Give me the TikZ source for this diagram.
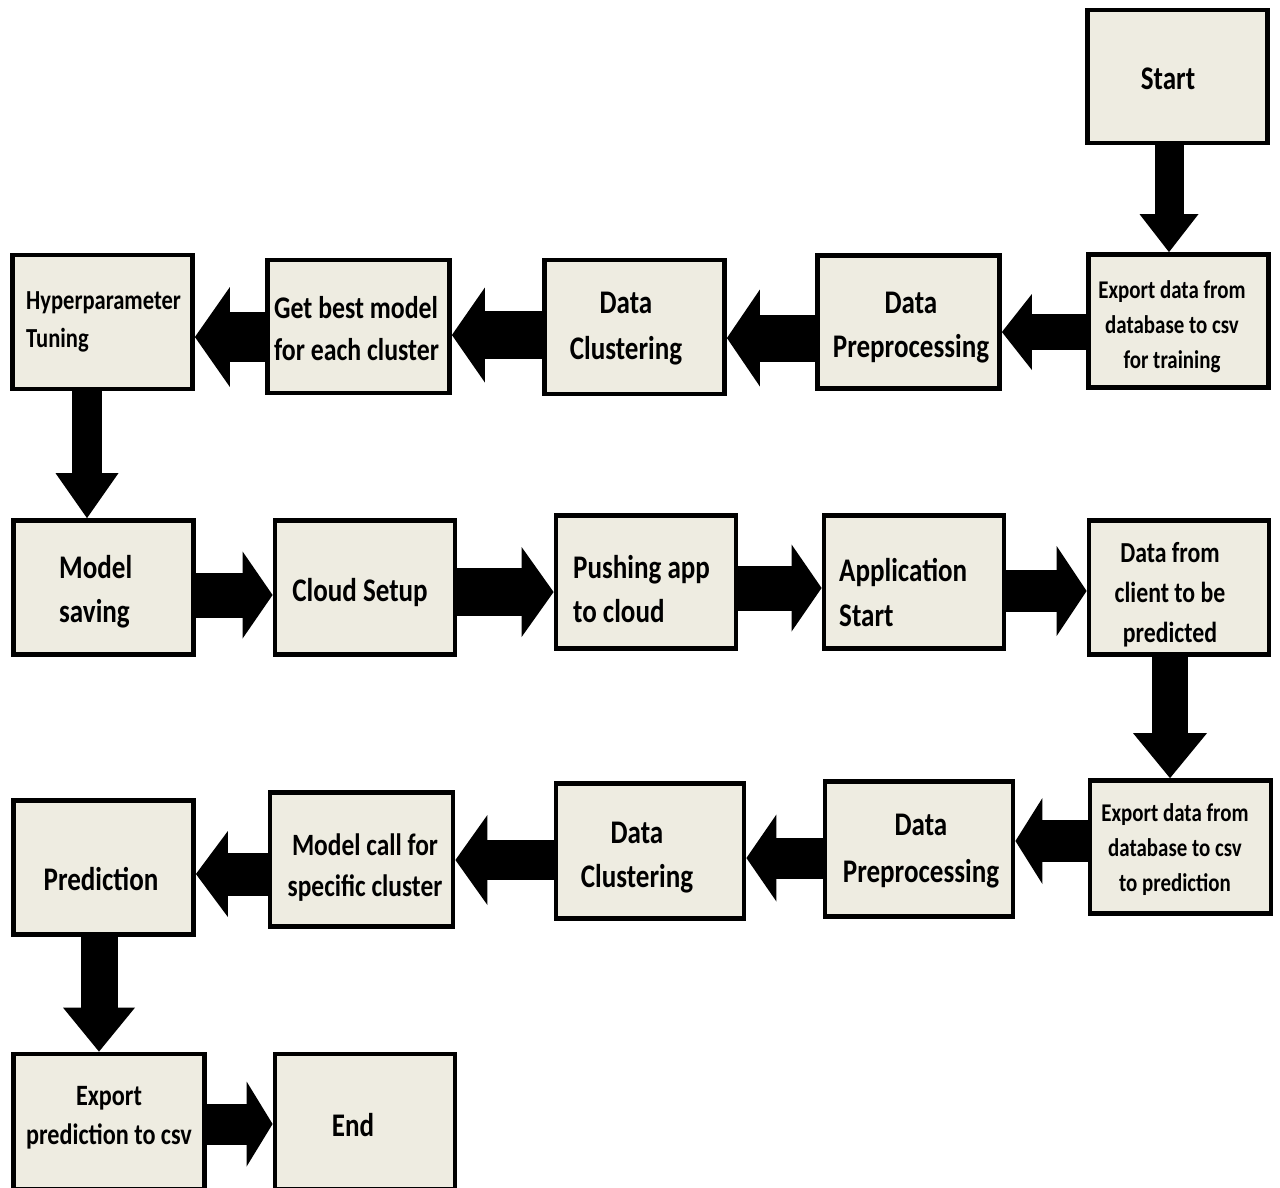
\documentclass[tikz,border=0pt]{standalone}
\usepackage{fontspec}
\setmainfont{Carlito}[FakeStretch=0.82]
\usetikzlibrary{arrows.meta}
\definecolor{boxfill}{RGB}{238,236,225}
\tikzset{
  box/.style={draw=black, line width=4.8pt, fill=boxfill, rectangle, inner sep=0pt},
  txt/.style={inner sep=0pt, font=\bfseries},
  blockarrow/.style n args={3}{draw=black, line width=#1pt,
     -{Triangle[width=#2pt, length=#3pt, line width=0pt]}}
}
\begin{document}
\begin{tikzpicture}[x=1pt, y=-1pt]
\useasboundingbox (0,0) rectangle (1280,1187);
% ---------- boxes ----------
\node[box, minimum width=180, minimum height=133] (start)  at (1177.5,76.5) {};
\node[box, minimum width=180, minimum height=133] (exp1)   at (1178.5,321) {};
\node[box, minimum width=182, minimum height=133] (pre1)   at (908.5,322) {};
\node[box, minimum width=180, minimum height=134] (clu1)   at (634.5,327) {};
\node[box, minimum width=182, minimum height=133] (best)   at (358.5,326.5) {};
\node[box, minimum width=180, minimum height=134] (hyp)    at (102.5,322) {};
\node[box, minimum width=180, minimum height=134] (ms)     at (103.5,587.5) {};
\node[box, minimum width=180, minimum height=134] (cloud)  at (365,587.5) {};
\node[box, minimum width=180, minimum height=133] (push)   at (646,582) {};
\node[box, minimum width=180, minimum height=133] (app)    at (914,582) {};
\node[box, minimum width=180, minimum height=134] (client) at (1179,587.5) {};
\node[box, minimum width=181, minimum height=133] (exp2)   at (1180.5,847) {};
\node[box, minimum width=188, minimum height=135] (pre2)   at (919,849) {};
\node[box, minimum width=188, minimum height=135] (clu2)   at (650,851) {};
\node[box, minimum width=183, minimum height=134] (mc)     at (361.5,859.5) {};
\node[box, minimum width=180, minimum height=134] (pred)   at (103.5,867.5) {};
\node[box, minimum width=191, minimum height=135] (exp3)   at (109,1121.5) {};
\node[box, minimum width=180, minimum height=135] (end)    at (365,1121.5) {};
% ---------- texts ----------
\node[txt, font=\bfseries\fontsize{33}{40}\selectfont] (tstart) at (1168,79) {Start};
\node[txt, align=center, font=\bfseries\fontsize{25.5}{35}\selectfont] (texp1) at (1172,327) {Export data from\\database to csv\\for training};
\node[txt, align=center, font=\bfseries\fontsize{33}{44}\selectfont] (tpre1) at (911,328) {Data\\Preprocessing};
\node[txt, align=center, font=\bfseries\fontsize{33}{46}\selectfont] (tclu1) at (626,329) {Data\\Clustering};
\node[txt, anchor=west, align=left, font=\bfseries\fontsize{31.5}{42}\selectfont] (tbest) at (274,329) {Get best model\\for each cluster};
\node[txt, anchor=west, align=left, font=\bfseries\fontsize{27.5}{38}\selectfont] (thyp) at (26,322) {Hyperparameter\\Tuning};
\node[txt, anchor=west, align=left, font=\bfseries\fontsize{33}{44}\selectfont] (tms) at (59,592) {Model\\saving};
\node[txt, font=\bfseries\fontsize{33}{43}\selectfont] (tcloud) at (360,593) {Cloud Setup};
\node[txt, anchor=west, align=left, font=\bfseries\fontsize{33}{44}\selectfont] (tpush) at (573,589) {Pushing app\\to cloud};
\node[txt, anchor=west, align=left, font=\bfseries\fontsize{33}{45}\selectfont] (tapp) at (839,593) {Application\\Start};
\node[txt, align=center, font=\bfseries\fontsize{29}{40}\selectfont] (tclient) at (1170,595) {Data from\\client to be\\predicted};
\node[txt, align=center, font=\bfseries\fontsize{25.5}{35}\selectfont] (texp2) at (1175,850) {Export data from\\database to csv\\ to prediction};
\node[txt, align=center, font=\bfseries\fontsize{33}{47}\selectfont] (tpre2) at (921,851) {Data\\Preprocessing};
\node[txt, align=center, font=\bfseries\fontsize{33}{44}\selectfont] (tclu2) at (637,858) {Data\\Clustering};
\node[txt, align=center, font=\bfseries\fontsize{31}{41}\selectfont] (tmc) at (365,868) {Model call for\\specific cluster};
\node[txt, font=\bfseries\fontsize{33}{43}\selectfont] (tpred) at (101,879) {Prediction};
\node[txt, align=center, font=\bfseries\fontsize{29.5}{39}\selectfont] (texp3) at (109,1118) {Export\\prediction to csv};
\node[txt, font=\bfseries\fontsize{33}{43}\selectfont] (tend) at (353,1125) {End};
% ---------- arrows ----------
\draw[blockarrow={29}{59}{38}]  (start.south -| 1169,0) -- (exp1.north -| 1169,0);
\draw[blockarrow={36}{76}{30}]  (exp1.west |- 0,332) -- (pre1.east |- 0,332);
\draw[blockarrow={47}{97}{33}]  (pre1.west |- 0,338) -- (clu1.east |- 0,338);
\draw[blockarrow={48}{95}{33}]  (clu1.west |- 0,335) -- (best.east |- 0,335);
\draw[blockarrow={50}{100}{35}] (best.west |- 0,337) -- (hyp.east |- 0,337);
\draw[blockarrow={30}{63}{45}]  (hyp.south -| 87,0) -- (ms.north -| 87,0);
\draw[blockarrow={45}{87}{30}]  (ms.east |- 0,595) -- (cloud.west |- 0,595);
\draw[blockarrow={48}{90}{32}]  (cloud.east |- 0,592) -- (push.west |- 0,592);
\draw[blockarrow={45}{87}{30}]  (push.east |- 0,588) -- (app.west |- 0,588);
\draw[blockarrow={42}{90}{30}]  (app.east |- 0,591) -- (client.west |- 0,591);
\draw[blockarrow={36}{74}{45}]  (client.south -| 1170,0) -- (exp2.north -| 1170,0);
\draw[blockarrow={42}{86}{27}]  (exp2.west |- 0,841) -- (pre2.east |- 0,841);
\draw[blockarrow={41}{87}{30}]  (pre2.west |- 0,858) -- (clu2.east |- 0,858);
\draw[blockarrow={40}{90}{32}]  (clu2.west |- 0,860) -- (mc.east |- 0,860);
\draw[blockarrow={43}{86}{32}]  (mc.west |- 0,874) -- (pred.east |- 0,874);
\draw[blockarrow={37}{72}{44}]  (pred.south -| 99,0) -- (exp3.north -| 99,0);
\draw[blockarrow={41}{85}{26}]  (exp3.east |- 0,1124) -- (end.west |- 0,1124);
\end{tikzpicture}
\end{document}
